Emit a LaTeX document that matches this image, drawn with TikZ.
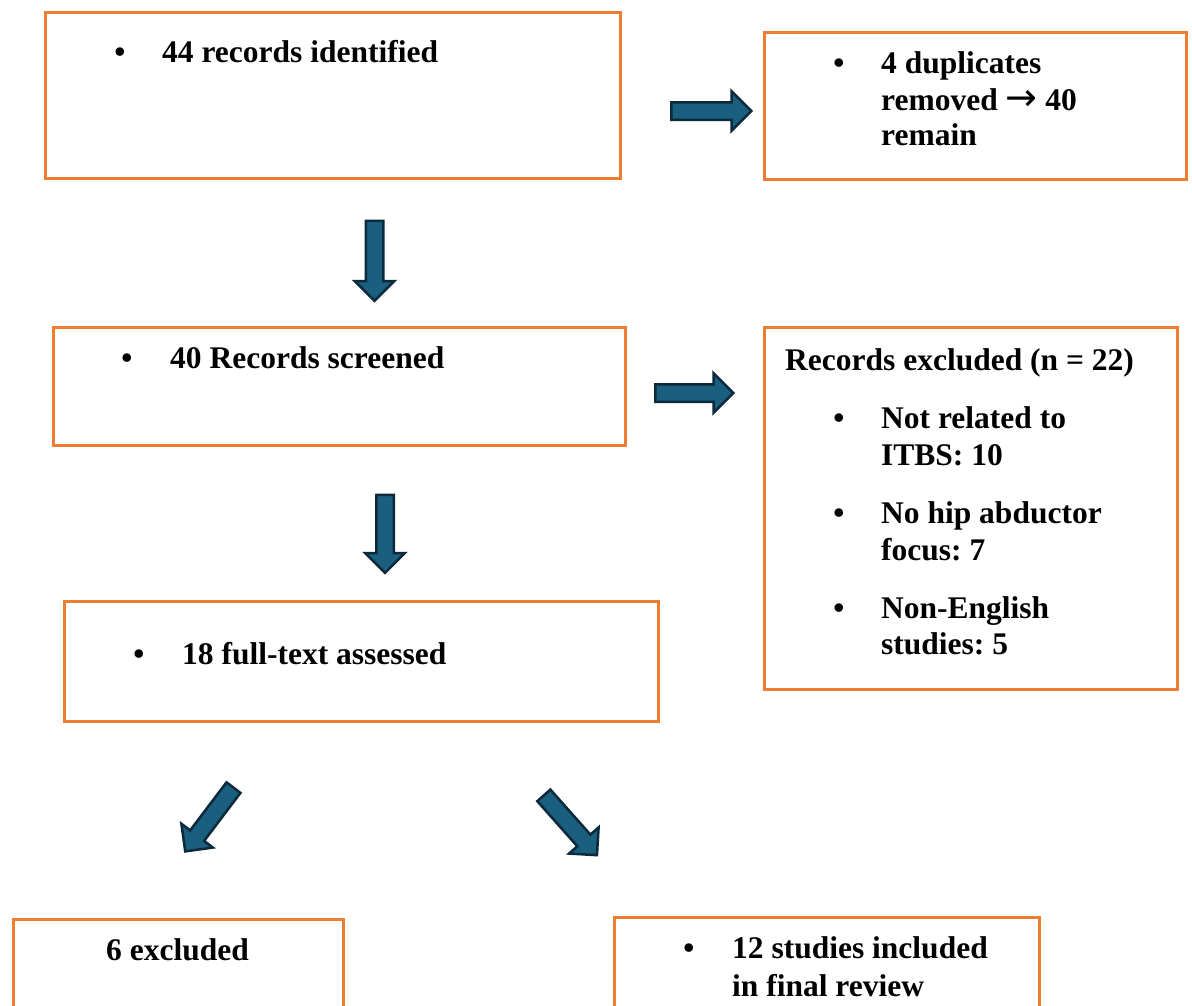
\documentclass[tikz,border=0pt]{standalone}
\usepackage{fontspec}
\setmainfont{Liberation Serif}
\newfontfamily\arrowfont{DejaVu Sans}
\usetikzlibrary{shapes.arrows}
\definecolor{boxorange}{HTML}{ED7D31}
\definecolor{arrowfill}{HTML}{1A5E80}
\definecolor{arrowline}{HTML}{0C2A3A}
\frenchspacing
\begin{document}
\begin{tikzpicture}[x=1pt,y=-1pt,
  font=\fontsize{31.5}{35}\selectfont\bfseries,
  box/.style={draw=boxorange, line width=3.2pt, anchor=north west, inner sep=0pt, outer sep=0pt},
  txt/.style={anchor=base west, inner sep=0pt},
  bul/.style={anchor=base, inner sep=0pt},
  barrow/.style={single arrow, draw=arrowline, fill=arrowfill, line width=2.5pt,
    inner xsep=0pt, inner ysep=7.5pt, minimum width=0pt, minimum height=#1,
    single arrow head extend=11pt, single arrow head indent=0pt}]
\clip (0,0) rectangle (1192,1005);
\useasboundingbox (0,0) rectangle (1192,1005);
% boxes
\node[box, minimum width=575pt, minimum height=166pt] (b1) at (45.5,12.5) {};
\node[box, minimum width=422pt, minimum height=147pt] (b2) at (764.5,32.5) {};
\node[box, minimum width=572pt, minimum height=118pt] (b3) at (53.5,327.5) {};
\node[box, minimum width=413pt, minimum height=362pt] (b4) at (764.5,327.5) {};
\node[box, minimum width=594pt, minimum height=120pt] (b5) at (64.5,601.5) {};
\node[box, minimum width=330pt, minimum height=150pt] (b6) at (13.5,919.5) {};
\node[box, minimum width=425pt, minimum height=150pt] (b7) at (614.5,917.5) {};
% texts
\node[bul] (u1) at (120,62) {\textbullet};
\node[txt] (t1) at (162,62) {44 records identified};
\node[bul] (u2) at (839,73) {\textbullet};
\node[txt] (t2a) at (881,73) {4 duplicates};
\node[txt] (t2b) at (881,110) {removed {\arrowfont\mdseries\fontsize{38}{35}\selectfont →} 40};
\node[txt] (t2c) at (881,145) {remain};
\node[bul] (u3) at (127,368) {\textbullet};
\node[txt] (t3) at (170,368) {40 Records screened};
\node[txt] (t4) at (785,370) {Records excluded (n = 22)};
\node[bul] (u4a) at (839,428) {\textbullet};
\node[txt] (t4a) at (881,428) {Not related to};
\node[txt] (t4b) at (881,465) {ITBS: 10};
\node[bul] (u4c) at (839,523) {\textbullet};
\node[txt] (t4c) at (881,523) {No hip abductor};
\node[txt] (t4d) at (881,560) {focus: 7};
\node[bul] (u4e) at (839,618) {\textbullet};
\node[txt] (t4e) at (881,618) {Non-English};
\node[txt] (t4f) at (881,654) {studies: 5};
\node[bul] (u5) at (139,664) {\textbullet};
\node[txt] (t5) at (182,664) {18 full-text assessed};
\node[txt] (t6) at (106,960) {6 excluded};
\node[bul] (u7) at (689,958) {\textbullet};
\node[txt] (t7a) at (732,958) {12 studies included};
\node[txt] (t7b) at (732,996) {in final review};
% block arrows
\node[barrow=80pt] (a1) at (707,111) {};
\node[barrow=80pt, rotate=-90] (a2) at (374.5,256.5) {};
\node[barrow=78pt] (a3) at (690,393) {};
\node[barrow=78pt, rotate=-90] (a4) at (385,529.5) {};
\node[barrow=80pt, rotate=232.9] (a5) at (212,816) {};
\node[barrow=80pt, rotate=-48.4] (a6) at (567.5,822) {};
\end{tikzpicture}
\end{document}
